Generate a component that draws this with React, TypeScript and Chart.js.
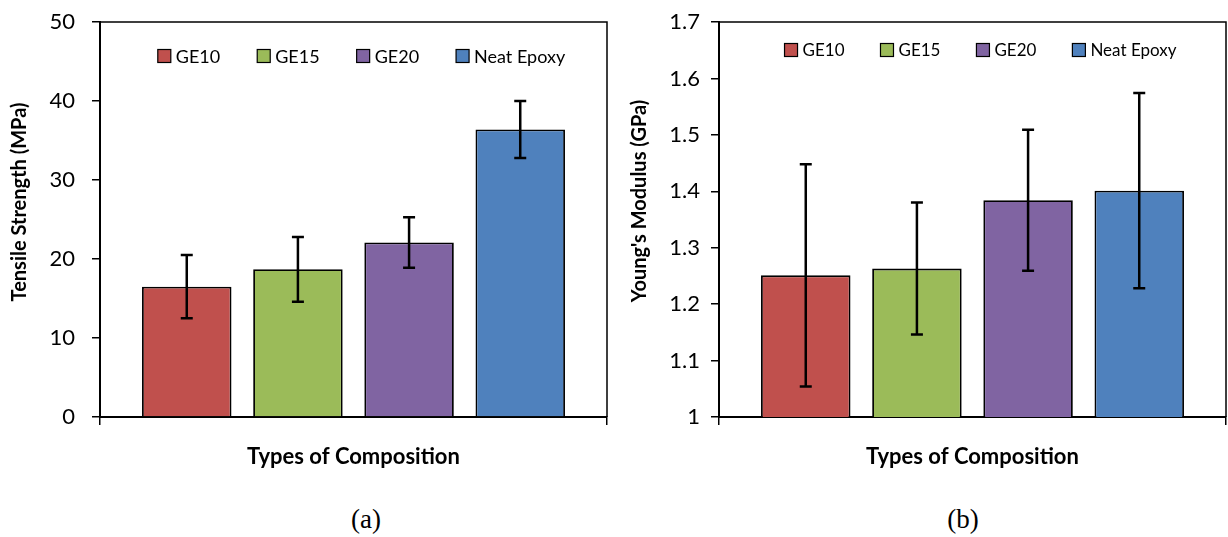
import React, { useEffect, useRef } from "react";
import { Chart, registerables } from "chart.js";
Chart.register(...registerables);

const categories = [""];
const seriesNames = ["GE10", "GE15", "GE20", "Neat Epoxy"];
const seriesColors = ["#C0504D", "#9BBB59", "#8064A2", "#4F81BD"];
const tensileValues = [16.5, 18.7, 22.1, 36.4];
const tensileErrors = [4.0, 4.1, 3.2, 3.6];
const modulusValues = [1.251, 1.263, 1.384, 1.401];
const modulusErrors = [0.197, 0.117, 0.125, 0.173];
const tensileTicks = ["0", "10", "20", "30", "40", "50"];
const modulusTicks = ["1", "1.1", "1.2", "1.3", "1.4", "1.5", "1.6", "1.7"];
const xTitle = "Types of Composition";
const tensileTitle = "Tensile Strength (MPa)";
const modulusTitle = "Young's Modulus (GPa)";

type Cfg = {
  values: number[];
  errors: number[];
  min: number;
  max: number;
  step: number;
  tickLabels: string[];
  yTitle: string;
  yTitleX: number;
  yTitleY: number;
  yAxisWidth: number;
  padRight: number;
  tickPad: number;
  legendY: number;
  legendDx: number;
  legendFont: number;
  legendGap: number;
};

function makeChart(canvas: HTMLCanvasElement, c: Cfg) {
  const errorBars = {
    id: "errorBars",
    afterDatasetsDraw(chart: any) {
      const ctx = chart.ctx;
      const ys = chart.scales.y;
      ctx.save();
      ctx.strokeStyle = "#000";
      ctx.lineWidth = 2.5;
      chart.data.datasets.forEach((ds: any, i: number) => {
        const meta = chart.getDatasetMeta(i);
        const bar = meta.data[0];
        if (!bar) return;
        const v = ds.data[0];
        const e = c.errors[i];
        const yt = ys.getPixelForValue(v + e);
        const yb = ys.getPixelForValue(v - e);
        const x = bar.x;
        ctx.beginPath();
        ctx.moveTo(x, yt);
        ctx.lineTo(x, yb);
        ctx.moveTo(x - 6, yt);
        ctx.lineTo(x + 6, yt);
        ctx.moveTo(x - 6, yb);
        ctx.lineTo(x + 6, yb);
        ctx.stroke();
      });
      ctx.restore();
    },
  };
  const extras = {
    id: "extras",
    afterDraw(chart: any) {
      const ctx = chart.ctx;
      const a = chart.chartArea;
      ctx.save();
      // plot border top/right
      ctx.strokeStyle = "#000";
      ctx.lineWidth = 1.5;
      ctx.beginPath();
      ctx.moveTo(a.left, a.top);
      ctx.lineTo(a.right, a.top);
      ctx.lineTo(a.right, a.bottom);
      ctx.stroke();
      // legend inside plot
      ctx.font = c.legendFont + "px Lato";
      ctx.textBaseline = "middle";
      ctx.textAlign = "left";
      const box = 13, gap = 5, itemGap = c.legendGap;
      const dss = chart.data.datasets;
      const widths = dss.map((d: any) => ctx.measureText(d.label).width);
      const total =
        widths.reduce((s: number, w: number) => s + box + gap + w, 0) +
        itemGap * (dss.length - 1);
      let x = (a.left + a.right) / 2 + c.legendDx - total / 2;
      const y = c.legendY;
      dss.forEach((d: any, i: number) => {
        ctx.fillStyle = d.backgroundColor;
        ctx.fillRect(x, y - box / 2, box, box);
        ctx.strokeStyle = "#000";
        ctx.lineWidth = 1.2;
        ctx.strokeRect(x, y - box / 2, box, box);
        ctx.fillStyle = "#000";
        ctx.fillText(d.label, x + box + gap, y + 1);
        x += box + gap + widths[i] + itemGap;
      });
      // y title
      ctx.font = "bold 20px Lato";
      ctx.textAlign = "center";
      ctx.translate(c.yTitleX, c.yTitleY);
      ctx.rotate(-Math.PI / 2);
      ctx.fillText(c.yTitle, 0, 0);
      ctx.restore();
    },
  };

  return new Chart(canvas, {
    type: "bar",
    data: {
      labels: categories,
      datasets: seriesNames.map((name, i) => ({
        label: name,
        data: [c.values[i]],
        backgroundColor: seriesColors[i],
        borderColor: "#000",
        borderWidth: 1.8,
        categoryPercentage: 0.877,
        barPercentage: 0.805,
      })),
    },
    options: {
      responsive: false,
      animation: false,
      devicePixelRatio: 1,
      layout: { padding: { top: 22, left: 0, right: c.padRight, bottom: 0 } },
      plugins: { legend: { display: false }, tooltip: { enabled: false } },
      scales: {
        x: {
          afterFit: (s: any) => {
            s.height = 63;
            s.paddingLeft = 0;
            s.paddingRight = 0;
          },
          ticks: { display: false },
          grid: {
            offset: true,
            drawOnChartArea: false,
            drawTicks: true,
            tickLength: 8,
            color: "#000",
            lineWidth: 1.5,
          },
          border: { display: true, color: "#000", width: 2 },
          title: {
            display: true,
            text: xTitle,
            color: "#000",
            font: { family: "Lato", size: 22, weight: "bold" },
            padding: { top: 0, bottom: 10 },
          },
        },
        y: {
          min: c.min,
          max: c.max,
          afterFit: (s: any) => {
            s.width = c.yAxisWidth;
            s.paddingTop = 0;
            s.paddingBottom = 0;
          },
          ticks: {
            stepSize: c.step,
            padding: c.tickPad,
            color: "#000",
            font: { family: "Lato", size: 22 },
            callback: (_v: any, i: number) => c.tickLabels[i],
          },
          grid: {
            drawOnChartArea: false,
            drawTicks: true,
            tickLength: 8,
            color: "#000",
            lineWidth: 1.5,
          },
          border: { display: true, color: "#000", width: 2 },
        },
      },
    },
    plugins: [errorBars, extras],
  } as any);
}

export default function App() {
  const leftRef = useRef<HTMLCanvasElement>(null);
  const rightRef = useRef<HTMLCanvasElement>(null);
  useEffect(() => {
    const a = makeChart(leftRef.current!, {
      values: tensileValues,
      errors: tensileErrors,
      min: 0,
      max: 50,
      step: 10,
      tickLabels: tensileTicks,
      yTitle: tensileTitle,
      yTitleX: 20,
      yTitleY: 202,
      yAxisWidth: 100,
      padRight: 5,
      tickPad: 17,
      legendY: 56,
      legendDx: 8,
      legendFont: 18,
      legendGap: 37,
    });
    const b = makeChart(rightRef.current!, {
      values: modulusValues,
      errors: modulusErrors,
      min: 1,
      max: 1.7,
      step: 0.1,
      tickLabels: modulusTicks,
      yTitle: modulusTitle,
      yTitleX: 28,
      yTitleY: 201,
      yAxisWidth: 107,
      padRight: 2,
      tickPad: 11,
      legendY: 50,
      legendDx: 8,
      legendFont: 17,
      legendGap: 36,
    });
    return () => {
      a.destroy();
      b.destroy();
    };
  }, []);
  const capStyle: React.CSSProperties = {
    position: "absolute",
    top: 504,
    width: 60,
    marginLeft: -30,
    textAlign: "center",
    fontFamily: "'Liberation Serif', 'Times New Roman', serif",
    fontSize: 27,
    lineHeight: "30px",
    color: "#000",
  };
  return (
    <div
      style={{
        position: "fixed",
        left: 0,
        top: 0,
        width: 1228,
        height: 537,
        background: "#fff",
        overflow: "hidden",
      }}
    >
      <canvas
        ref={leftRef}
        width={612}
        height={480}
        style={{ position: "absolute", left: 0, top: 0 }}
      />
      <canvas
        ref={rightRef}
        width={616}
        height={480}
        style={{ position: "absolute", left: 612, top: 0 }}
      />
      <div style={{ ...capStyle, left: 366 }}>(a)</div>
      <div style={{ ...capStyle, left: 963 }}>(b)</div>
    </div>
  );
}
